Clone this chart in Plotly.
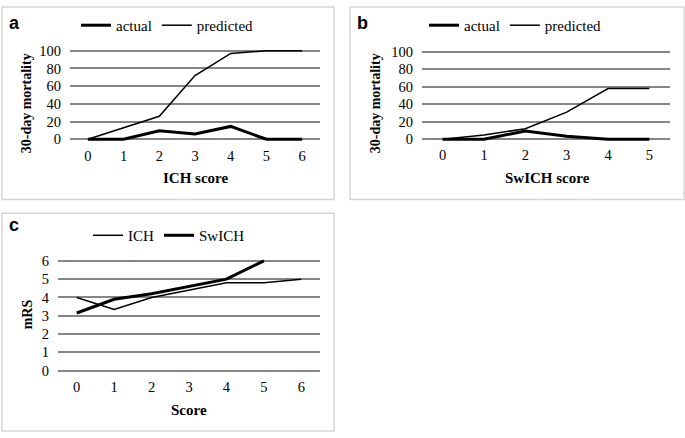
import plotly.graph_objects as go

W, H = 685, 438

# Panel a: ICH score vs 30-day mortality
ich_scores = ["0", "1", "2", "3", "4", "5", "6"]
ich_actual = [0, 0, 9.5, 6, 14.5, 0, 0]
ich_predicted = [0, 13, 26, 72, 97, 100, 100]

# Panel b: SwICH score vs 30-day mortality
swich_scores = ["0", "1", "2", "3", "4", "5"]
swich_actual = [0, 0, 9.5, 3.5, 0, 0]
swich_predicted = [0, 4.8, 12, 31, 58, 58]

# Panel c: score vs mRS
c_scores = ["0", "1", "2", "3", "4", "5", "6"]
mrs_ich = [4.0, 3.35, 4.0, 4.4, 4.8, 4.8, 5.0]
mrs_swich = [3.15, 3.9, 4.2, 4.6, 5.0, 6.0]

SERIF = "Liberation Serif, Times New Roman, serif"
GRID = "#858585"
THICK, THIN = 3, 1.5

def px_x(a, b):
    return [a / W, b / W]

def px_y(top, bottom):
    return [1 - bottom / H, 1 - top / H]

fig = go.Figure()

fig.add_trace(go.Scatter(x=ich_scores, y=ich_actual, name="actual", mode="lines",
                         line=dict(color="black", width=THICK), xaxis="x", yaxis="y", legend="legend"))
fig.add_trace(go.Scatter(x=ich_scores, y=ich_predicted, name="predicted", mode="lines",
                         line=dict(color="black", width=THIN), xaxis="x", yaxis="y", legend="legend"))
fig.add_trace(go.Scatter(x=swich_scores, y=swich_actual, name="actual", mode="lines",
                         line=dict(color="black", width=THICK), xaxis="x2", yaxis="y2", legend="legend2"))
fig.add_trace(go.Scatter(x=swich_scores, y=swich_predicted, name="predicted", mode="lines",
                         line=dict(color="black", width=THIN), xaxis="x2", yaxis="y2", legend="legend2"))
fig.add_trace(go.Scatter(x=c_scores, y=mrs_ich, name="ICH", mode="lines",
                         line=dict(color="black", width=THIN), xaxis="x3", yaxis="y3", legend="legend3"))
fig.add_trace(go.Scatter(x=c_scores[:len(mrs_swich)], y=mrs_swich, name="SwICH", mode="lines",
                         line=dict(color="black", width=THICK), xaxis="x3", yaxis="y3", legend="legend3"))

tickfont = dict(family=SERIF, size=14.5, color="black")

def xaxis(domain, anchor, n):
    return dict(domain=domain, anchor=anchor, type="category", range=[-0.5, n - 0.5],
                showgrid=False, zeroline=False, showline=False,
                ticks="", tickfont=tickfont, ticklabelstandoff=4, fixedrange=True)

def yaxis(domain, anchor, rng, dtick):
    return dict(domain=domain, anchor=anchor, range=rng, dtick=dtick, showgrid=True,
                gridcolor=GRID, gridwidth=1.5, zeroline=False, showline=False,
                ticks="", tickfont=tickfont, ticklabelstandoff=8, fixedrange=True)

# pixel mapping: a: 0->137, 100->46 ; pad range by 2
ya_dom = px_y(137 - 102 * 0.91, 137 + 2 * 0.91)
yb_dom = px_y(137 - 102 * 0.90, 137 + 2 * 0.90)
# c: 0->375, 6->262
sc = (375 - 262) / 6
yc_dom = px_y(375 - 6.1 * sc, 375 + 0.1 * sc)

legfont = dict(family=SERIF, size=15, color="black")

def legend(x, y):
    return dict(x=x / W, y=1 - y / H, xanchor="left", yanchor="middle", orientation="h",
                font=legfont, bgcolor="rgba(0,0,0,0)", itemwidth=30, tracegroupgap=0)

fig.update_layout(
    width=W, height=H, margin=dict(l=0, r=0, t=0, b=0),
    paper_bgcolor="white", plot_bgcolor="white", showlegend=True,
    xaxis=xaxis(px_x(70, 320), "y", 7),
    yaxis=yaxis(ya_dom, "x", [-2, 102], 20),
    xaxis2=xaxis(px_x(422, 670), "y2", 6),
    yaxis2=yaxis(yb_dom, "x2", [-2, 102], 20),
    xaxis3=xaxis(px_x(58, 320), "y3", 7),
    yaxis3=yaxis(yc_dom, "x3", [-0.1, 6.1], 1),
    legend=legend(76, 20),
    legend2=legend(424, 20),
    legend3=legend(88, 236),
)

boxes = [(2, 1, 334, 199), (350, 1, 684, 199), (2, 213, 334, 437)]
for x0, y0, x1, y1 in boxes:
    fig.add_shape(type="rect", xref="paper", yref="paper",
                  x0=x0 / W, x1=x1 / W, y0=1 - y1 / H, y1=1 - y0 / H,
                  line=dict(color="#d6d6d6", width=1.5), layer="below")

def ann(text, x, y, size, bold=True, family=SERIF, angle=0):
    fig.add_annotation(text=f"<b>{text}</b>" if bold else text, x=x / W, y=1 - y / H,
                       xref="paper", yref="paper", showarrow=False, textangle=angle,
                       xanchor="center", yanchor="middle",
                       font=dict(family=family, size=size, color="black"))

# panel letters
ann("a", 14, 17, 18, family="Liberation Sans, Arial, sans-serif")
ann("b", 362, 17, 18, family="Liberation Sans, Arial, sans-serif")
ann("c", 14, 225, 18, family="Liberation Sans, Arial, sans-serif")

# axis titles
ann("ICH score", 196, 177, 15)
ann("30-day mortality", 26, 100, 14, angle=-90)
ann("SwICH score", 547, 177, 15)
ann("30-day mortality", 375, 100, 14, angle=-90)
ann("Score", 189, 415, 15)
ann("mRS", 27, 317, 14, angle=-90)

fig.write_html("out.html", config={"displayModeBar": False},
               post_script="document.body.style.margin='0';document.body.style.overflow='hidden';")
